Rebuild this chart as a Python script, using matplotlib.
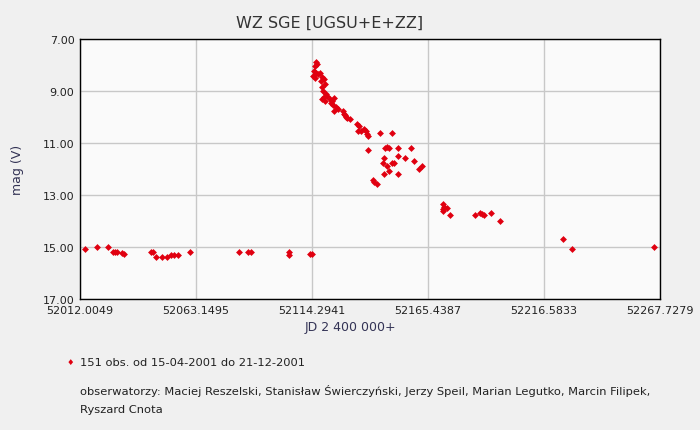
import matplotlib
matplotlib.use("Agg")
import matplotlib.pyplot as plt

# quiescence before outburst
jd_quiet = [52014.2, 52019.6, 52024.5, 52026.4, 52027.4, 52028.5, 52030.5, 52031.4,
            52043.2, 52044.3, 52045.4, 52048.2, 52050.2, 52052.1, 52053.5, 52055.3,
            52060.6, 52082.2, 52086.2, 52087.4, 52104.2, 52104.2, 52113.4, 52114.4]
mag_quiet = [15.08, 15.00, 15.00, 15.20, 15.20, 15.20, 15.22, 15.28,
             15.20, 15.20, 15.38, 15.40, 15.40, 15.32, 15.30, 15.30,
             15.20, 15.20, 15.20, 15.20, 15.18, 15.30, 15.27, 15.27]

# superoutburst
jd_burst = [52116.1, 52115.6, 52116.5, 52115.2, 52116.1, 52116.9, 52114.7, 52115.6,
            52117.8, 52118.7, 52118.3, 52119.6, 52120.0, 52118.7, 52119.1, 52120.5,
            52119.6, 52118.7, 52120.9, 52120.0, 52122.2, 52123.1, 52124.0, 52123.6,
            52124.9, 52124.0, 52125.8, 52122.7, 52128.0, 52128.8, 52129.7, 52131.0,
            52129.3, 52128.4, 52134.1, 52135.0, 52134.6, 52135.9, 52137.2, 52138.1,
            52138.5, 52139.0, 52144.3, 52149.4, 52139.1, 52146.5, 52147.4, 52148.2,
            52152.3, 52157.9, 52146.2, 52152.3, 52155.3, 52145.5, 52147.5, 52149.4,
            52150.6, 52159.4, 52162.7, 52161.3, 52148.2, 52146.2, 52152.3, 52141.2,
            52141.7, 52143.0]
mag_burst = [7.88, 8.04, 7.96, 8.23, 8.31, 8.35, 8.42, 8.50,
             8.31, 8.46, 8.62, 8.54, 8.73, 8.85, 9.00, 9.12,
             9.23, 9.31, 9.19, 9.38, 9.31, 9.38, 9.27, 9.54,
             9.62, 9.77, 9.69, 9.46, 9.77, 9.92, 10.04, 10.08,
             10.00, 9.88, 10.27, 10.35, 10.54, 10.54, 10.46, 10.54,
             10.65, 10.73, 10.60, 10.60, 11.26, 11.20, 11.15, 11.18,
             11.19, 11.19, 11.58, 11.51, 11.59, 11.78, 11.90, 11.77,
             11.77, 11.70, 11.90, 12.00, 12.09, 12.19, 12.19, 12.41,
             12.50, 12.58]

# decline / rebrightening tail
jd_tail = [52171.9, 52172.5, 52173.7, 52172.1, 52172.1, 52175.1, 52186.3, 52188.4,
           52189.2, 52190.1, 52193.4, 52197.3, 52225.0, 52229.0, 52265.2]
mag_tail = [13.35, 13.45, 13.50, 13.55, 13.60, 13.78, 13.78, 13.70,
            13.72, 13.77, 13.69, 14.01, 14.70, 15.09, 15.01]

x_ticks = [52012.0049, 52063.1495, 52114.2941, 52165.4387, 52216.5833, 52267.7279]
y_ticks = [7, 9, 11, 13, 15, 17]

jd = jd_quiet + jd_burst + jd_tail
mag = mag_quiet + mag_burst + mag_tail

plt.rcParams['font.family'] = ['DejaVu Sans']
fig = plt.figure(figsize=(7, 4.31), dpi=100, facecolor='#f0f0f0')
ax = fig.add_axes([80/700, 1 - 300/431, 580/700, 260/431], facecolor='#fafafa')

ax.plot(jd, mag, linestyle='none', marker='D', markersize=3.5, color='#e00010',
        markeredgewidth=0, zorder=3)

ax.set_xlim(x_ticks[0], x_ticks[-1])
ax.set_ylim(17, 7)
ax.set_xticks(x_ticks)
ax.set_xticklabels([f"{t:.4f}" for t in x_ticks])
ax.set_yticks(y_ticks)
ax.set_yticklabels([f"{t:.2f}" for t in y_ticks])
ax.grid(True, color='#c8c8c8', linewidth=1)
ax.set_axisbelow(True)
ax.tick_params(length=0, labelsize=8, colors='#222222', pad=4)
for sp in ax.spines.values():
    sp.set_color('black')
    sp.set_linewidth(1)

fig.text(330/700, 1 - 23/431, "WZ SGE [UGSU+E+ZZ]", ha='center', va='center',
         fontsize=11.5, color='#333333')
fig.text(18/700, 1 - 170/431, "mag (V)", rotation=90, ha='center', va='center',
         fontsize=9, color='#333355')
fig.text(350/700, 1 - 328/431, "JD 2 400 000+", ha='center', va='center',
         fontsize=9, color='#333355')

# legend-like footer
fig.text(70/700, 1 - 363/431, "\u2666", ha='center', va='center', fontsize=6, color='#e00010')
fig.text(80/700, 1 - 363/431, "151 obs. od 15-04-2001 do 21-12-2001", ha='left',
         va='center', fontsize=8.25, color='#222222')
fig.text(80/700, 1 - 391/431,
         "obserwatorzy: Maciej Reszelski, Stanisław Świerczyński, Jerzy Speil, Marian Legutko, Marcin Filipek,",
         ha='left', va='center', fontsize=8.25, color='#222222')
fig.text(80/700, 1 - 410/431, "Ryszard Cnota", ha='left', va='center', fontsize=8.25, color='#222222')

fig.savefig("out.png", dpi=100, facecolor=fig.get_facecolor())
